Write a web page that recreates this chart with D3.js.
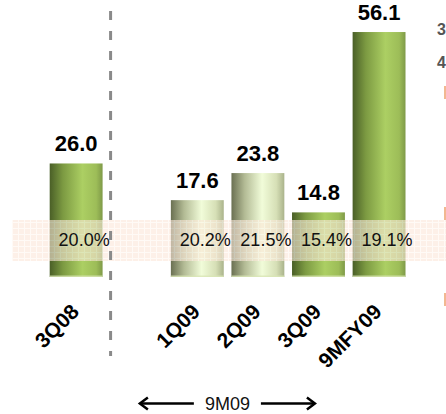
<!DOCTYPE html>
<html>
<head>
    <style>
        body { margin: 0; background: #fff; }
        svg { display: block; font-family: Arial, "Liberation Sans", sans-serif; }
    </style>
</head>
<body>
    <div id="chart"></div>
    <script src="https://cdnjs.cloudflare.com/ajax/libs/d3/7.8.5/d3.min.js"></script>
    <script>
        // data
        const categories = ["3Q08", "1Q09", "2Q09", "3Q09", "9MFY09"];
        const values = [26.0, 17.6, 23.8, 14.8, 56.1];
        const percents = ["20.0%", "20.2%", "21.5%", "15.4%", "19.1%"];
        const paleBars = ["1Q09", "2Q09"];
        const periodLabel = "9M09";

        const width = 446, height = 414;

        const svg = d3.select("#chart").append("svg")
            .attr("width", width)
            .attr("height", height);

        // an empty slot sits between 3Q08 and the 2009 bars
        const x = d3.scaleBand()
            .domain([categories[0], "gap", ...categories.slice(1)])
            .range([49.7, 405.5])
            .paddingInner(0.127)
            .paddingOuter(0);

        const y = d3.scaleLinear()
            .domain([0, 60])
            .range([277, 15]);

        const defs = svg.append("defs");

        const green = defs.append("linearGradient").attr("id", "gGreen");
        [[0, "#4a5f27"], [0.25, "#7c9a42"], [0.62, "#accf63"], [0.88, "#9dbd58"], [1, "#7f9a48"]]
            .forEach(s => green.append("stop").attr("offset", s[0]).attr("stop-color", s[1]));

        const pale = defs.append("linearGradient").attr("id", "gPale");
        [[0, "#6a7052"], [0.25, "#b3bb95"], [0.58, "#f1fcd9"], [0.85, "#d6dfb6"], [1, "#aab38b"]]
            .forEach(s => pale.append("stop").attr("offset", s[0]).attr("stop-color", s[1]));

        // grid texture for the band
        const pat = defs.append("pattern")
            .attr("id", "grid")
            .attr("width", 6).attr("height", 6)
            .attr("patternUnits", "userSpaceOnUse");
        pat.append("rect").attr("width", 6).attr("height", 6).attr("fill", "#fbe6d8");
        pat.append("path").attr("d", "M0,0.5H6M0.5,0V6")
            .attr("stroke", "#fff6f0").attr("stroke-width", 1);

        // bars
        svg.selectAll("rect.bar")
            .data(categories)
            .enter().append("rect")
            .attr("class", "bar")
            .attr("x", d => x(d))
            .attr("width", x.bandwidth())
            .attr("y", (d, i) => y(values[i]))
            .attr("height", (d, i) => y(0) - y(values[i]))
            .attr("fill", d => paleBars.includes(d) ? "url(#gPale)" : "url(#gGreen)");

        // light base edge
        svg.selectAll("rect.base")
            .data(categories)
            .enter().append("rect")
            .attr("class", "base")
            .attr("x", d => x(d))
            .attr("width", x.bandwidth())
            .attr("y", y(0) - 1.5)
            .attr("height", 1.5)
            .attr("fill", "#d9e6b5")
            .attr("opacity", 0.8);

        // horizontal band
        const bandTop = 220, bandBottom = 261;
        svg.append("rect")
            .attr("x", 12).attr("y", bandTop)
            .attr("width", width - 12).attr("height", bandBottom - bandTop)
            .attr("fill", "url(#grid)")
            .attr("opacity", 0.6);

        // dashed divider
        const divX = x(categories[0]) + x.bandwidth() + 8;
        svg.append("line")
            .attr("x1", divX).attr("x2", divX)
            .attr("y1", 11).attr("y2", 356)
            .attr("stroke", "#8a8a8a")
            .attr("stroke-width", 3)
            .attr("stroke-dasharray", "9,11");

        // value labels
        svg.selectAll("text.val")
            .data(categories)
            .enter().append("text")
            .attr("class", "val")
            .attr("x", d => x(d) + x.bandwidth() / 2)
            .attr("y", (d, i) => y(values[i]) - 12)
            .attr("text-anchor", "middle")
            .attr("font-size", 22)
            .attr("font-weight", "bold")
            .attr("fill", "#000")
            .text((d, i) => values[i].toFixed(1));

        // percent labels
        svg.selectAll("text.pct")
            .data(categories)
            .enter().append("text")
            .attr("class", "pct")
            .attr("x", d => x(d) + x.bandwidth() / 2 + 8)
            .attr("y", 246)
            .attr("text-anchor", "middle")
            .attr("font-size", 18)
            .attr("fill", "#111")
            .text((d, i) => percents[i]);

        // rotated category labels
        svg.selectAll("text.cat")
            .data(categories)
            .enter().append("text")
            .attr("class", "cat")
            .attr("transform", d => `translate(${x(d) + x.bandwidth() / 2 + 4},313) rotate(-45)`)
            .attr("text-anchor", "end")
            .attr("font-size", 21)
            .attr("font-weight", "bold")
            .attr("fill", "#000")
            .text(d => d);

        // 9M09 span arrows
        const left = x(categories[1]) - 32, right = x(categories[3]) + x.bandwidth() - 29;
        const ay = 403.5;
        svg.append("text")
            .attr("x", (left + right) / 2)
            .attr("y", 410)
            .attr("text-anchor", "middle")
            .attr("font-size", 18)
            .attr("fill", "#111")
            .text(periodLabel);
        const arrows = svg.append("g")
            .attr("stroke", "#000").attr("stroke-width", 2.5).attr("fill", "none");
        arrows.append("line").attr("x1", left + 1).attr("x2", left + 55).attr("y1", ay).attr("y2", ay);
        arrows.append("line").attr("x1", right - 55).attr("x2", right - 1).attr("y1", ay).attr("y2", ay);
        arrows.append("path").attr("d", `M${left + 9},${ay - 6}L${left + 1},${ay}L${left + 9},${ay + 6}`);
        arrows.append("path").attr("d", `M${right - 9},${ay - 6}L${right - 1},${ay}L${right - 9},${ay + 6}`);

        // clipped pieces at the right edge
        svg.append("text").attr("x", 437).attr("y", 35)
            .attr("font-size", 16).attr("font-weight", "bold").attr("fill", "#555").text("3");
        svg.append("text").attr("x", 437).attr("y", 68)
            .attr("font-size", 16).attr("font-weight", "bold").attr("fill", "#555").text("4");
        svg.selectAll("rect.tick")
            .data([86, 207, 293])
            .enter().append("rect")
            .attr("class", "tick")
            .attr("x", 444).attr("y", d => d)
            .attr("width", 2).attr("height", 13)
            .attr("fill", "#f2b891");
    </script>
</body>
</html>
